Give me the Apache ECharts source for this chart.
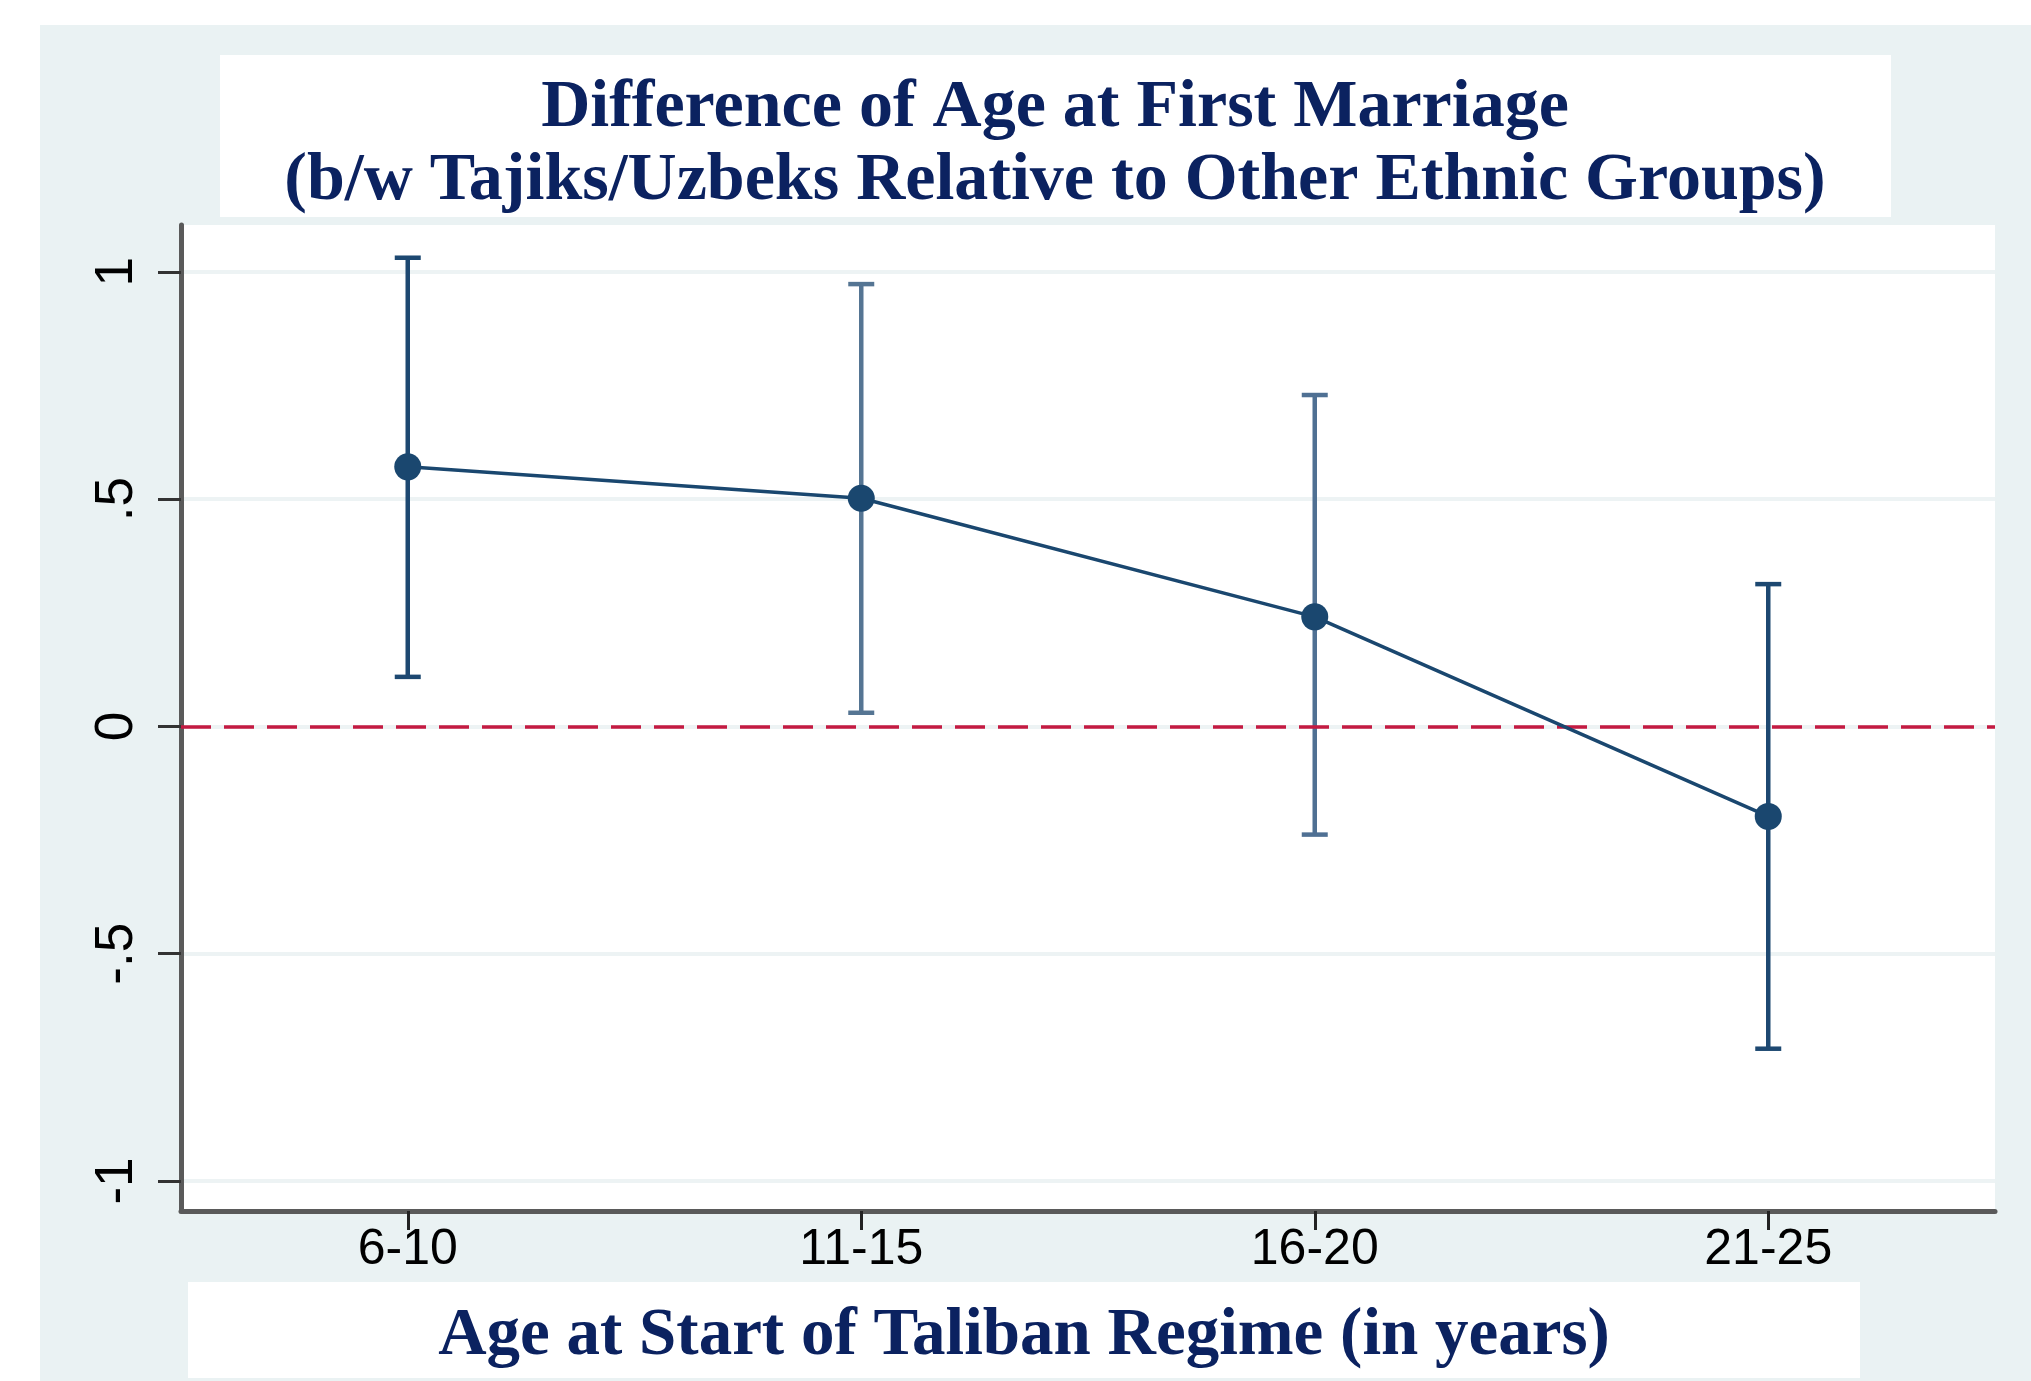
<!DOCTYPE html>
<html>
<head>
<meta charset="utf-8">
<title>Difference of Age at First Marriage</title>
<script src="https://cdn.jsdelivr.net/npm/echarts@6/dist/echarts.min.js"></script>
<style>
  html, body { margin: 0; padding: 0; background: #fff; }
  #chart { width: 2031px; height: 1381px; }
</style>
</head>
<body>
<div id="chart"></div>
<script>
// data
const ageGroups = ['6-10', '11-15', '16-20', '21-25']
const estimate = [0.571, 0.502, 0.241, -0.198]
const ciLow = [0.109, 0.030, -0.238, -0.709]
const ciHigh = [1.031, 0.973, 0.729, 0.313]
const yTicks = [-1, -0.5, 0, 0.5, 1]
const yTickLabels = ['-1', '-.5', '0', '.5', '1']
const yMin = -1.066
const yMax = 1.103
const referenceLine = 0

const SERIF = '"Liberation Serif", "DejaVu Serif", serif'
const SANS = '"Liberation Sans", Arial, sans-serif'
const TITLE_COLOR = '#0b2260'
const NAVY = '#1a476f'
const BG = '#eaf2f3'
const barColors = ['#1d4871', '#557593', '#4f7093', '#1d4871'] // middle bars look lighter in the original

const chart = echarts.init(document.getElementById('chart'))

const option = {
  animation: false,
  backgroundColor: '#fff',
  graphic: [
    { type: 'rect', z: -2, shape: { x: 40, y: 25, width: 1991, height: 1356 }, style: { fill: BG } },
    { type: 'rect', z: -1, shape: { x: 220, y: 55, width: 1671, height: 162 }, style: { fill: '#fff' } },
    { type: 'rect', z: -1, shape: { x: 188, y: 1282, width: 1672, height: 96 }, style: { fill: '#fff' } },
  ],
  title: [
    {
      text: 'Difference of Age at First Marriage\n(b/w Tajiks/Uzbeks Relative to Other Ethnic Groups)',
      left: 1055, top: 72, textAlign: 'center', padding: 0,
      textStyle: { fontFamily: SERIF, fontWeight: 'bold', fontSize: 68, lineHeight: 73, color: TITLE_COLOR },
    },
    {
      text: 'Age at Start of Taliban Regime (in years)',
      left: 1024, top: 1300, textAlign: 'center', padding: 0,
      textStyle: { fontFamily: SERIF, fontWeight: 'bold', fontSize: 67, lineHeight: 73, color: TITLE_COLOR },
    },
  ],
  grid: {
    left: 181, right: 36, top: 225, bottom: 170,
    show: true, backgroundColor: '#fff', borderWidth: 0,
    outerBoundsMode: 'none',
  },
  xAxis: {
    type: 'category',
    data: ageGroups,
    boundaryGap: true,
    axisLine: { show: true, onZero: false, lineStyle: { color: '#5a5a5a', width: 5 } },
    axisTick: { show: true, alignWithLabel: true, length: 19, lineStyle: { color: '#222', width: 3 } },
    axisLabel: { margin: 14, fontSize: 50, color: '#000', fontFamily: SANS },
    splitLine: { show: false },
  },
  yAxis: {
    type: 'value',
    min: yMin,
    max: yMax,
    axisLine: { show: true, onZero: false, lineStyle: { color: '#5a5a5a', width: 5 } },
    axisTick: { show: true, length: 23, customValues: yTicks, lineStyle: { color: '#333', width: 3 } },
    axisLabel: {
      rotate: 90, margin: 37, fontSize: 53, color: '#000', fontFamily: SANS,
      customValues: yTicks,
      formatter: (v) => {
        const i = yTicks.findIndex((t) => Math.abs(t - v) < 1e-9)
        return i >= 0 ? yTickLabels[i] : ''
      },
    },
    splitLine: { show: true, lineStyle: { color: '#edf3f4', width: 4 } },
  },
  series: [
    {
      // zero reference line only
      type: 'line',
      data: [],
      z: 2,
      silent: true,
      markLine: {
        silent: true,
        symbol: ['none', 'none'],
        label: { show: false },
        lineStyle: { color: '#c41a41', type: [30, 13], width: 3.5 },
        data: [{ yAxis: referenceLine }],
      },
    },
    {
      type: 'custom',
      z: 4,
      data: ageGroups.map((g, i) => [i, ciLow[i], ciHigh[i]]),
      encode: { x: 0, y: [1, 2] },
      renderItem: function (params, api) {
        const idx = api.value(0)
        const top = api.coord([idx, api.value(2)])
        const bot = api.coord([idx, api.value(1)])
        const half = 13
        const style = { stroke: barColors[params.dataIndex], lineWidth: 4.5 }
        return {
          type: 'group',
          children: [
            { type: 'line', shape: { x1: top[0], y1: top[1], x2: bot[0], y2: bot[1] }, style: style },
            { type: 'line', shape: { x1: top[0] - half, y1: top[1], x2: top[0] + half, y2: top[1] }, style: style },
            { type: 'line', shape: { x1: bot[0] - half, y1: bot[1], x2: bot[0] + half, y2: bot[1] }, style: style },
          ],
        }
      },
    },
    {
      type: 'line',
      z: 5,
      data: estimate,
      symbol: 'circle',
      symbolSize: 27,
      lineStyle: { color: NAVY, width: 3.5 },
      itemStyle: { color: NAVY },
    },
  ],
}

chart.setOption(option)
</script>
</body>
</html>
